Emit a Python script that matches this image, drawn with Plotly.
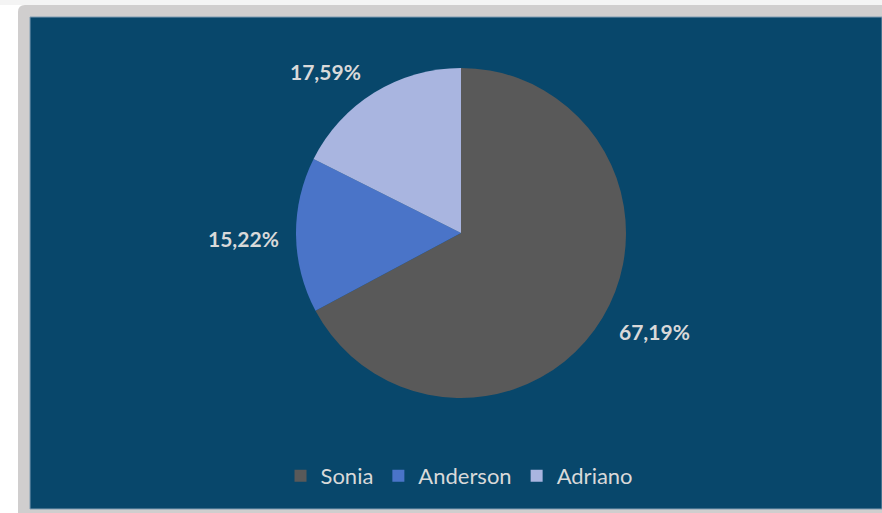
import math
import plotly.graph_objects as go

labels = ["Sonia", "Anderson", "Adriano"]
values = [67.19, 15.22, 17.59]
text_labels = ["67,19%", "15,22%", "17,59%"]
colors = ["#595959", "#4a74c8", "#a9b5e0"]

# label nudges in screen pixels (x right, y down) to mimic the original's best-fit placement
label_shift_x = [8, -1, -22]
label_shift_y = [-13, 3, 22]

W, H = 882, 513
cx, cy_top, R = 461, 233, 165
cy = H - cy_top

fig = go.Figure()
fig.add_trace(go.Pie(
    labels=labels, values=values, sort=False, direction="clockwise", rotation=0,
    marker=dict(colors=colors, line=dict(width=0)),
    textinfo="none", hoverinfo="label+percent",
    domain=dict(x=[(cx - R) / W, (cx + R) / W], y=[(cy - R) / H, (cy + R) / H]),
))

total = sum(values)
annotations = []
cum = 0
for lab, v, sx, sy in zip(text_labels, values, label_shift_x, label_shift_y):
    mid = (cum + v / 2) / total * 2 * math.pi
    cum += v
    r = 1.31 * R
    x = cx + r * math.sin(mid)
    y = cy + r * math.cos(mid)
    annotations.append(dict(x=x / W, y=y / H, xref="paper", yref="paper", text="<b>" + lab + "</b>",
                            showarrow=False, font=dict(family="Lato", size=21, color="#d9d9d9"),
                            xanchor="center", yanchor="middle", xshift=sx, yshift=-sy))

shapes = [
    dict(type="rect", xref="paper", yref="paper", x0=0, x1=1, y0=(H - 5) / H, y1=1,
         fillcolor="#f4f4f4", line=dict(width=0), layer="below"),
    dict(type="path", xref="paper", yref="paper",
         path=f"M {18/W} 0 L {18/W} {(H-12)/H} Q {18/W} {(H-5)/H} {25/W} {(H-5)/H} L 1 {(H-5)/H} L 1 0 Z",
         fillcolor="#d0cece", line=dict(width=0), layer="below"),
    dict(type="rect", xref="paper", yref="paper", x0=30 / W, x1=1, y0=(H - 509) / H, y1=(H - 17) / H,
         fillcolor="#08476b", line=dict(color="#7f9cb3", width=1), layer="below"),
]

fig.update_layout(
    width=W, height=H, margin=dict(l=0, r=0, t=0, b=0),
    paper_bgcolor="#ffffff", plot_bgcolor="#ffffff",
    shapes=shapes, annotations=annotations,
    showlegend=True,
    legend=dict(orientation="h", x=0.521, xanchor="center", y=(H - 476) / H, yanchor="middle",
                font=dict(family="Lato", size=22, color="#d9d9d9"), bgcolor="rgba(0,0,0,0)",
                itemwidth=30),
)

fig.write_html("out.html", config={"displayModeBar": False},
               post_script="document.body.style.margin='0';document.body.style.overflow='hidden';")
